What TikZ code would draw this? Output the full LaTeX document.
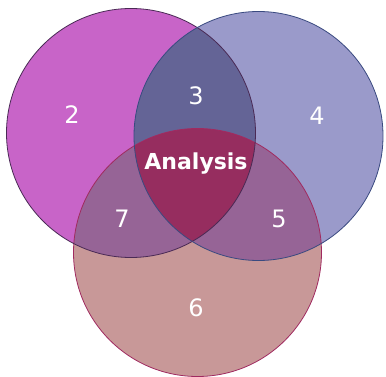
\documentclass[tikz,border=0pt]{standalone}
\usepackage{fontspec}
\setmainfont{DejaVu Sans}
\usepackage{xcolor}

\definecolor{leftfill}{HTML}{C864C8}
\definecolor{rightfill}{HTML}{9A9ACA}
\definecolor{lowfill}{HTML}{C89898}
\definecolor{lrfill}{HTML}{646496}
\definecolor{sidefill}{HTML}{966496}
\definecolor{midfill}{HTML}{962D5F}
\definecolor{leftline}{HTML}{4A2A55}
\definecolor{rightline}{HTML}{3A4A80}
\definecolor{lowline}{HTML}{A02A60}

\begin{document}
\begin{tikzpicture}[x=1pt, y=-1pt,
            every node/.style={text=white, inner sep=0pt}
        ]
        \tikzstyle {num_lbl} = [font=\fontsize{24}{24}\selectfont]
        \tikzstyle {main_lbl} = [font=\fontsize{22}{22}\selectfont\bfseries]

        \useasboundingbox (0,0) rectangle (386,377);

        \coordinate (cl) at (131,133);
        \coordinate (cr) at (258.5,136);
        \coordinate (cb) at (197.5,252.5);

        % single circles
        \fill [leftfill] (cl) circle [radius=124.5pt];
        \fill [rightfill] (cr) circle [radius=124.5pt];
        \fill [lowfill] (cb) circle [radius=124pt];

        % overlaps
        \begin{scope}
            \clip (cl) circle [radius=124.5pt];
            \fill [lrfill] (cr) circle [radius=124.5pt];
            \fill [sidefill] (cb) circle [radius=124pt];
        \end{scope}
        \begin{scope}
            \clip (cr) circle [radius=124.5pt];
            \fill [sidefill] (cb) circle [radius=124pt];
            \clip (cl) circle [radius=124.5pt];
            \fill [midfill] (cb) circle [radius=124pt];
        \end{scope}

        % outlines
        \draw [lowline, line width=0.8pt] (cb) circle [radius=124pt];
        \draw [leftline, line width=0.8pt] (cl) circle [radius=124.5pt];
        \draw [rightline, line width=0.8pt] (cr) circle [radius=124.5pt];

        \node [num_lbl] (n2) at (72,115) {2};
        \node [num_lbl] (n3) at (196,96) {3};
        \node [num_lbl] (n4) at (317,116) {4};
        \node [num_lbl] (n7) at (122,219) {7};
        \node [num_lbl] (n5) at (279,219) {5};
        \node [num_lbl] (n6) at (196,308) {6};
        \node [main_lbl] (mid) at (196,164) {Analysis};

        \end{tikzpicture}
\end{document}
